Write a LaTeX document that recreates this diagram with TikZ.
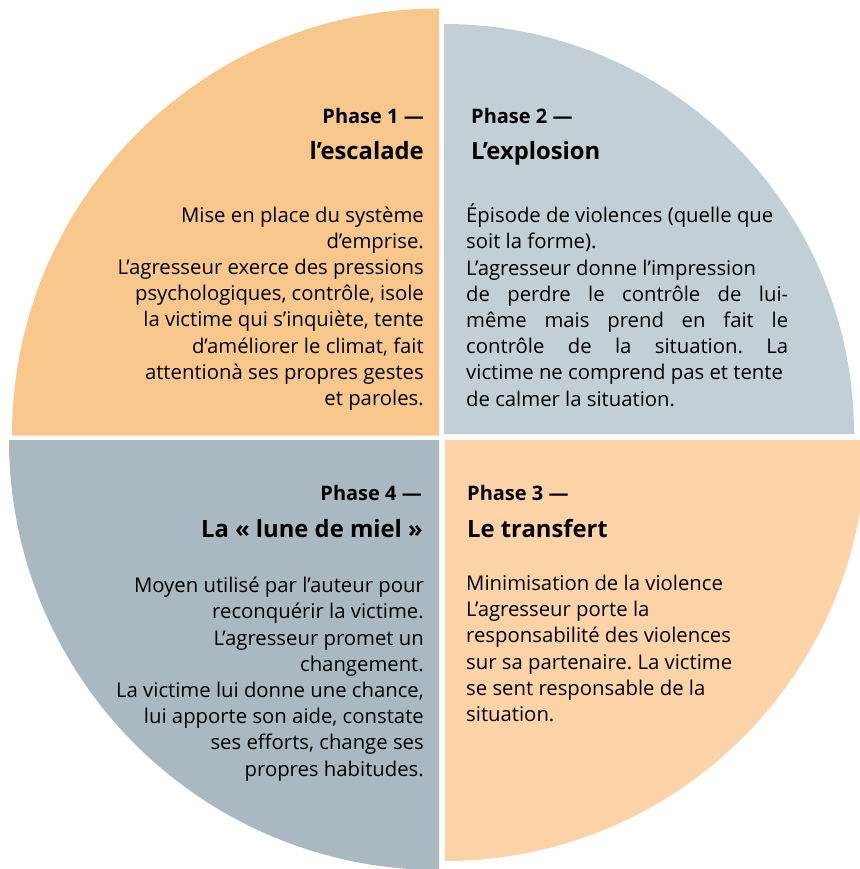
\documentclass[tikz,border=0pt]{standalone}
\usepackage{fontspec}
\setmainfont{Open Sans}
\frenchspacing
\definecolor{qorange}{HTML}{F8C78B}
\definecolor{qblue}{HTML}{C2CFD6}
\definecolor{qgray}{HTML}{AAB9C1}
\definecolor{qpeach}{HTML}{FDD3A7}
\begin{document}
\begin{tikzpicture}[x=1pt,y=1pt,
  phase/.style={inner sep=0pt,font=\fontsize{20}{24}\selectfont\bfseries},
  title/.style={inner sep=0pt,font=\fontsize{23.8}{28}\selectfont\bfseries},
  body/.style={inner sep=0pt,font=\fontsize{20.3}{26.2}\selectfont}]
\useasboundingbox (0,0) rectangle (859,-869);
% quadrants
\fill[qorange] (439,-435.5) -- (12,-435.5) arc[start angle=180,end angle=90,radius=427] -- cycle;
\fill[qblue] (444,-434) -- (444,-24) arc[start angle=90,end angle=0,radius=410] -- cycle;
\fill[qgray] (439,-440) -- (9,-440) arc[start angle=180,end angle=270,radius=430] -- cycle;
\fill[qpeach] (445,-440) -- (866,-440) arc[start angle=0,end angle=-90,radius=421] -- cycle;
% Phase 1
\node[phase,anchor=base east] (p1) at (424,-123.5) {Phase 1 —};
\node[title,anchor=base east] (t1) at (424,-160) {l’escalade};
\node[body,anchor=base east,align=right] (b1) at (424,-405.5) {Mise en place du système\\d’emprise.\\L’agresseur exerce des pressions\\psychologiques, contrôle, isole\\la victime qui s’inquiète, tente\\d’améliorer le climat, fait\\attentionà ses propres gestes\\et paroles.};
% Phase 2
\node[phase,anchor=base west] (p2) at (471,-123.5) {Phase 2 —};
\node[title,anchor=base west] (t2) at (471,-160) {L’explosion};
\node[body,anchor=base west,align=left] (b2) at (466,-406) {Épisode de violences (quelle que\\soit la forme).\\L’agresseur donne l’impression\\\makebox[322pt][s]{de perdre le contrôle de lui-}\\\makebox[322pt][s]{même mais prend en fait le}\\\makebox[322pt][s]{contrôle de la situation. La}\\victime ne comprend pas et tente\\de calmer la situation.};
% Phase 4
\node[phase,anchor=base east] (p4) at (422,-500) {Phase 4 —};
\node[title,anchor=base east] (t4) at (423,-537) {La « lune de miel »};
\node[body,anchor=base east,align=right] (b4) at (424,-776) {Moyen utilisé par l’auteur pour\\reconquérir la victime.\\L’agresseur promet un\\changement.\\La victime lui donne une chance,\\lui apporte son aide, constate\\ses efforts, change ses\\propres habitudes.};
% Phase 3
\node[phase,anchor=base west] (p3) at (467,-500) {Phase 3 —};
\node[title,anchor=base west] (t3) at (467,-537) {Le transfert};
\node[body,anchor=base west,align=left] (b3) at (466,-721.5) {Minimisation de la violence\\L’agresseur porte la\\responsabilité des violences\\sur sa partenaire. La victime\\se sent responsable de la\\situation.};
\end{tikzpicture}
\end{document}
